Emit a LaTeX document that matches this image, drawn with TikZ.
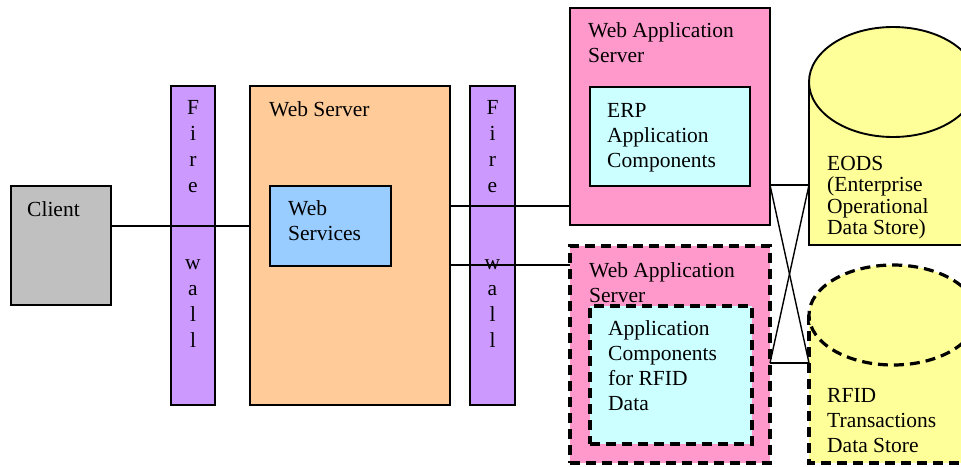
\documentclass[tikz,border=0pt]{standalone}
\usepackage{fontspec}
\setmainfont{Liberation Serif}
\usepackage{tikz}
\usetikzlibrary{calc}
\definecolor{clientgray}{HTML}{C0C0C0}
\definecolor{fwpurple}{HTML}{CC99FF}
\definecolor{srvorange}{HTML}{FFCC99}
\definecolor{svcblue}{HTML}{99CCFF}
\definecolor{apppink}{HTML}{FF99CC}
\definecolor{compcyan}{HTML}{CCFFFF}
\definecolor{dbyellow}{HTML}{FFFF99}

\begin{document}
\begin{tikzpicture}[x=1pt,y=-1pt,
  box/.style={draw,line width=1.9pt,inner sep=0pt,outer sep=0pt,anchor=north west},
  dashline/.style={line width=3.2pt,dash pattern=on 10pt off 6pt},
  dbox/.style={box,dashline},
  lbl/.style={anchor=base west,align=left,inner sep=0pt,font=\fontsize{21.5pt}{25pt}\selectfont},
  fwlbl/.style={anchor=base,align=center,inner sep=0pt,font=\fontsize{21.5pt}{25.8pt}\selectfont},
  wire/.style={line width=1.4pt}]
  \useasboundingbox (0,0) rectangle (961,466);

  % boxes
  \node[box,fill=clientgray,minimum width=100pt,minimum height=119pt] (client) at (11,186) {};
  \node[box,fill=fwpurple,minimum width=44pt,minimum height=319pt] (fw1) at (171,86) {};
  \node[box,fill=srvorange,minimum width=200pt,minimum height=319pt] (websrv) at (250,86) {};
  \node[box,fill=svcblue,minimum width=121pt,minimum height=80pt] (wsvc) at (270,186) {};
  \node[box,fill=fwpurple,minimum width=45pt,minimum height=319pt] (fw2) at (470,86) {};
  \node[box,fill=apppink,minimum width=200pt,minimum height=217pt] (app1) at (570,8) {};
  \node[box,fill=compcyan,minimum width=160pt,minimum height=99pt] (erp) at (590,87) {};
  \node[dbox,fill=apppink,minimum width=200pt,minimum height=217pt] (app2) at (570,246) {};
  \node[dbox,fill=compcyan,minimum width=162pt,minimum height=138pt] (rfidapp) at (590,306) {};

  % data stores
  \begin{scope}
    \clip (0,0) rectangle (961,466);
    \path[fill=dbyellow] (809,82) rectangle (980,245);
    \draw[line width=1.9pt] (809,82) -- (809,245) -- (980,245);
    \draw[line width=1.9pt,fill=dbyellow] (893,82) ellipse [x radius=84, y radius=55];
    \path[fill=dbyellow] (809,315) rectangle (980,463);
    \draw[dashline] (809,315) -- (809,463) -- (980,463);
    \draw[dashline,fill=dbyellow] (893,315) ellipse [x radius=84, y radius=50];
  \end{scope}
  \coordinate (eods) at (809,185);
  \coordinate (rfid) at (809,363);
  \coordinate (up) at (570,206);
  \coordinate (dn) at (570,265);

  % texts (placed at the baseline of their last line)
  \node[lbl] (clienttxt) at (27,216) {Client};
  \node[fwlbl] (fw1txt) at (193,347) {F\\i\\r\\e\\~\\~\\w\\a\\l\\l};
  \node[lbl] (websrvtxt) at (269,116) {Web Server};
  \node[lbl] (wsvctxt) at (288,240) {Web\\Services};
  \node[fwlbl] (fw2txt) at (492.5,347) {F\\i\\r\\e\\~\\~\\w\\a\\l\\l};
  \node[lbl] (app1txt) at (588,62) {Web Application\\Server};
  \node[lbl] (erptxt) at (607,167) {ERP\\Application\\Components};
  \node[lbl] (app2txt) at (589,302) {Web Application\\Server};
  \node[lbl] (rfidapptxt) at (608,410) {Application\\Components\\for RFID\\Data};
  \node[lbl,font=\fontsize{21.5pt}{21.5pt}\selectfont] (eodstxt) at (827,234.5) {EODS\\(Enterprise\\Operational\\Data Store)};
  \node[lbl] (rfidtxt) at (827,452) {RFID\\Transactions\\Data Store};

  % connectors
  \draw[wire] (client.east |- wsvc) -- (websrv.west |- wsvc);
  \draw[wire] (websrv.east |- up) -- (up);
  \draw[wire] (websrv.east |- dn) -- (dn);
  \draw[wire] (app1.east |- eods) -- (eods);
  \draw[wire] (app2.east |- rfid) -- (rfid);
  \draw[wire] (app1.east |- eods) -- (rfid);
  \draw[wire] (app2.east |- rfid) -- (eods);
\end{tikzpicture}
\end{document}
